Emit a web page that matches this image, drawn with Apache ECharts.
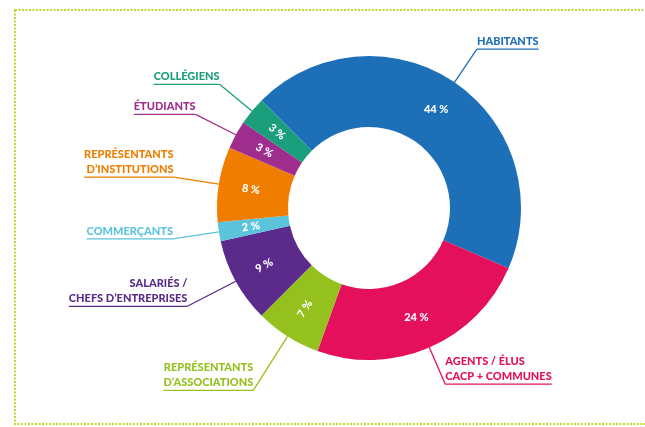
<!DOCTYPE html>
<html>
<head>
<meta charset="utf-8">
<script src="https://cdn.jsdelivr.net/npm/echarts@6/dist/echarts.min.js"></script>
<style>
  html, body { margin: 0; padding: 0; background: #fff; }
  #chart { width: 645px; height: 427px; }
</style>
</head>
<body>
<div id="chart"></div>
<script>
// categories, clockwise from the top-left
const categories = [
  'HABITANTS',
  'AGENTS / ÉLUS\nCACP + COMMUNES',
  'REPRÉSENTANTS\nD’ASSOCIATIONS',
  'SALARIÉS /\nCHEFS D’ENTREPRISES',
  'COMMERÇANTS',
  'REPRÉSENTANTS\nD’INSTITUTIONS',
  'ÉTUDIANTS',
  'COLLÉGIENS'
];
const shares = [44, 24, 7, 9, 2, 8, 3, 3];
const colors = ['#1d6fb8', '#e4105c', '#95c11f', '#5a2b8b', '#5bc4dc', '#f07d00', '#9e2d8e', '#1a9e7b'];

const FONT = 'Lato';
const LH = 15;
// leader line length per slice (same order as categories)
const leaderLen = [40, 40, 64, 52, 46, 46, 46, 42];

// name + underline, with a spacer below so the underline sits at the line end
function outerRich(color, nLines) {
  return {
    t: { fontFamily: FONT, fontWeight: 900, fontSize: 11, lineHeight: LH, color: color },
    hr: { width: '100%', height: 0, borderWidth: 1.3, borderColor: color },
    sp: { height: LH * nLines, lineHeight: LH * nLines }
  };
}

const outerData = categories.map((name, i) => ({
  name: name,
  value: shares[i],
  itemStyle: { color: colors[i] },
  label: { color: colors[i], rich: outerRich(colors[i], name.split('\n').length) },
  labelLine: { length: leaderLen[i], lineStyle: { color: colors[i] } }
}));

const innerData = categories.map((name, i) => ({
  name: name,
  value: shares[i],
  label: { rotate: shares[i] >= 20 ? 0 : 'radial' }
}));

const chart = echarts.init(document.getElementById('chart'), null, { renderer: 'canvas' });
chart.setOption({
  animation: false,
  backgroundColor: '#fff',
  graphic: [{
    type: 'rect',
    shape: { x: 15, y: 10, width: 700, height: 414 },
    style: { fill: 'none', stroke: '#c3d72c', lineWidth: 2, lineDash: [2, 1.5] },
    silent: true
  }],
  series: [
    {
      type: 'pie',
      center: [369, 208],
      radius: [81, 152],
      startAngle: 135,
      clockwise: true,
      avoidLabelOverlap: true,
      itemStyle: { borderWidth: 0 },
      label: {
        show: true,
        position: 'outer',
        alignTo: 'none',
        distanceToLabelLine: 0,
        formatter: p => '{t|' + p.name + '}\n{hr|}\n{sp|}'
      },
      labelLine: { show: true, length2: 0, smooth: false, lineStyle: { width: 1.3 } },
      emphasis: { disabled: true },
      data: outerData
    },
    {
      type: 'pie',
      center: [369, 208],
      radius: [81, 152],
      startAngle: 135,
      clockwise: true,
      silent: true,
      itemStyle: { color: 'rgba(0,0,0,0)', borderWidth: 0 },
      label: {
        show: true,
        position: 'inside',
        color: '#fff',
        fontFamily: FONT,
        fontWeight: 900,
        fontSize: 11,
        formatter: '{c} %'
      },
      labelLine: { show: false },
      emphasis: { disabled: true },
      data: innerData
    }
  ]
});
</script>
</body>
</html>
